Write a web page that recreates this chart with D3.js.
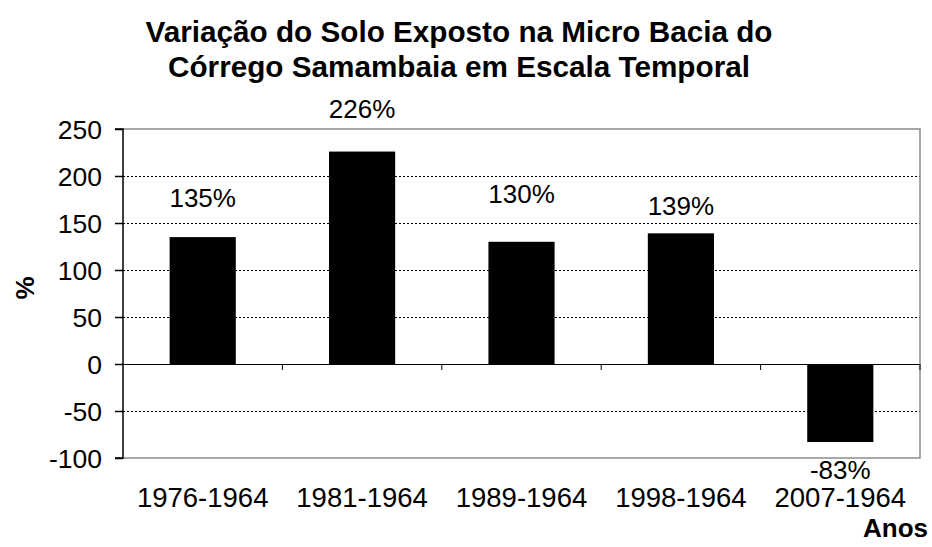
<!DOCTYPE html>
<html>
<head>
<meta charset="utf-8">
<script src="https://cdn.jsdelivr.net/npm/d3@7"></script>
<style>
  html, body { margin: 0; padding: 0; background: #fff; }
  svg { display: block; font-family: "Liberation Sans", Arial, sans-serif; }
</style>
</head>
<body>
<svg id="chart" width="932" height="547"></svg>
<script>
// Variação percentual do solo exposto, por período
const periods = ["1976-1964", "1981-1964", "1989-1964", "1998-1964", "2007-1964"];
const variation = [135, 226, 130, 139, -83];
const yTicks = [-100, -50, 0, 50, 100, 150, 200, 250];
const titleLines = [
  "Variação do Solo Exposto na Micro Bacia do",
  "Córrego Samambaia em Escala Temporal"
];

const FONT = "Liberation Sans, Arial, sans-serif";
const svg = d3.select("#chart");
const plot = { left: 123, right: 920, top: 129, bottom: 458 };

const x = d3.scaleBand()
  .domain(periods)
  .range([plot.left, plot.right])
  .paddingInner(0.585)
  .paddingOuter(0.2925);

const y = d3.scaleLinear()
  .domain([-100, 250])
  .range([plot.bottom, plot.top]);

// Title
svg.append("g")
  .selectAll("text")
  .data(titleLines)
  .join("text")
  .attr("x", 459)
  .attr("y", (d, i) => 42 + i * 34.5)
  .attr("text-anchor", "middle")
  .attr("font-weight", "bold")
  .attr("font-size", 29.7)
  .attr("fill", "#000")
  .text(d => d);

// Gridlines (dotted), skipping the frame edges and zero
svg.append("g")
  .selectAll("line")
  .data(yTicks.filter(t => t !== 0 && t !== 250 && t !== -100))
  .join("line")
  .attr("x1", plot.left)
  .attr("x2", plot.right)
  .attr("y1", d => y(d) + 0.5)
  .attr("y2", d => y(d) + 0.5)
  .attr("stroke", "#000")
  .attr("stroke-width", 1)
  .attr("stroke-dasharray", "2,2");

// Plot frame: grey top, right and bottom edges
svg.append("path")
  .attr("d", `M${plot.left},${y(250)}H${plot.right}V${y(-100)}H${plot.left}`)
  .attr("fill", "none")
  .attr("stroke", "#8c8c8c")
  .attr("stroke-width", 1.5);

// Bars
svg.append("g")
  .selectAll("rect")
  .data(periods.map((p, i) => ({ p, v: variation[i] })))
  .join("rect")
  .attr("x", d => x(d.p))
  .attr("width", x.bandwidth())
  .attr("y", d => y(Math.max(0, d.v)))
  .attr("height", d => Math.abs(y(d.v) - y(0)))
  .attr("fill", "#000");

// Zero line with category separator ticks
svg.append("line")
  .attr("x1", plot.left).attr("x2", plot.right)
  .attr("y1", y(0) + 0.5).attr("y2", y(0) + 0.5)
  .attr("stroke", "#000").attr("stroke-width", 1);

const bounds = d3.range(1, periods.length + 1).map(i => plot.left + i * (plot.right - plot.left) / periods.length);
svg.append("g")
  .selectAll("line")
  .data(bounds)
  .join("line")
  .attr("x1", d => d).attr("x2", d => d)
  .attr("y1", y(0)).attr("y2", y(0) + 6)
  .attr("stroke", "#000").attr("stroke-width", 1);

// Y axis
const yAxis = d3.axisLeft(y)
  .tickValues(yTicks)
  .tickSize(8)
  .tickPadding(13)
  .tickFormat(d3.format("d"));

const ya = svg.append("g")
  .attr("transform", `translate(${plot.left},0)`)
  .call(yAxis)
  .attr("font-size", 26.5)
  .attr("font-family", FONT);
ya.select(".domain").attr("stroke", "#000").attr("stroke-width", 1.5).attr("d", `M-8,${y(250)}H0V${y(-100)}H-8`);
ya.selectAll(".tick line").attr("stroke", "#000").attr("stroke-width", 1.5);
ya.selectAll(".tick text")
  .attr("fill", "#000")
  .attr("dy", "0.36em")
  .text(d => d3.format("d")(d).replace("\u2212", "-"));

// Category labels
svg.append("g")
  .selectAll("text")
  .data(periods)
  .join("text")
  .attr("x", d => x(d) + x.bandwidth() / 2)
  .attr("y", 507)
  .attr("text-anchor", "middle")
  .attr("font-size", 27.5)
  .attr("fill", "#000")
  .text(d => d);

// Value labels (baseline offset from the bar end, in pixels)
const labelLift = [30, 34, 38.5, 18];
const labelDrop = 36.5;
svg.append("g")
  .selectAll("text")
  .data(periods.map((p, i) => ({ p, v: variation[i], i })))
  .join("text")
  .attr("x", d => x(d.p) + x.bandwidth() / 2)
  .attr("y", d => d.v >= 0 ? y(d.v) - labelLift[d.i] : y(d.v) + labelDrop)
  .attr("text-anchor", "middle")
  .attr("font-size", 26)
  .attr("fill", "#000")
  .text(d => d.v + "%");

// Axis titles
svg.append("text")
  .attr("transform", "translate(34,288) rotate(-90)")
  .attr("text-anchor", "middle")
  .attr("font-weight", "bold")
  .attr("font-size", 26)
  .attr("fill", "#000")
  .text("%");

svg.append("text")
  .attr("x", 928)
  .attr("y", 537)
  .attr("text-anchor", "end")
  .attr("font-weight", "bold")
  .attr("font-size", 26)
  .attr("fill", "#000")
  .text("Anos");
</script>
</body>
</html>
